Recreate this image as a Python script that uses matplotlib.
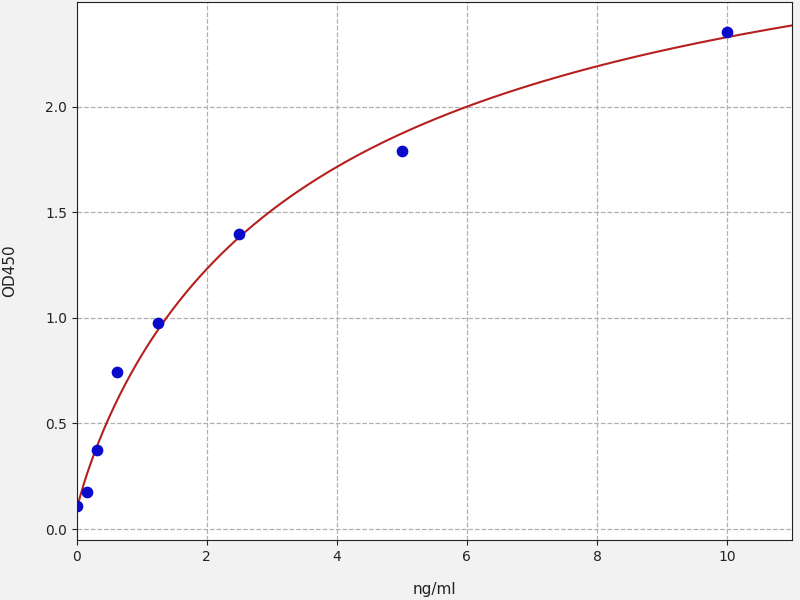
import numpy as np
import matplotlib
matplotlib.use("Agg")
import matplotlib.pyplot as plt

# standard points
conc = [0, 0.156, 0.3125, 0.625, 1.25, 2.5, 5, 10]
od450 = [0.11, 0.175, 0.375, 0.745, 0.975, 1.40, 1.79, 2.355]

# 4PL fit parameters
fit_a, fit_b, fit_c, fit_d = 0.09, 0.9, 3.8, 3.268

xticks = [0, 2, 4, 6, 8, 10]
yticks = [0.0, 0.5, 1.0, 1.5, 2.0]

fig = plt.figure(figsize=(8, 6), dpi=100, facecolor="#f2f2f2")
ax = fig.add_axes([0.096, 0.1, 0.894, 0.8967])
ax.set_facecolor("white")

xs = np.linspace(0, 11, 400)
ys = fit_d + (fit_a - fit_d) / (1 + (xs / fit_c) ** fit_b)
ax.plot(xs, ys, color="#b5201f", lw=1.5, zorder=2)
ax.scatter(conc, od450, s=55, color="#0a0acc", zorder=3)

ax.set_xlim(0, 11)
ax.set_ylim(-0.052, 2.497)
ax.set_xticks(xticks)
ax.set_yticks(yticks)
ax.grid(True, linestyle="--", color="#b0b0b0", lw=0.9)
ax.set_axisbelow(True)
ax.tick_params(labelsize=10, colors="#222222")
ax.set_xlabel("ng/ml", fontsize=11, color="#222222", labelpad=13)
ax.set_ylabel("OD450", fontsize=11, color="#222222", labelpad=20)
for s in ax.spines.values():
    s.set_color("#222222")

fig.savefig("out.png", dpi=100, facecolor=fig.get_facecolor())
